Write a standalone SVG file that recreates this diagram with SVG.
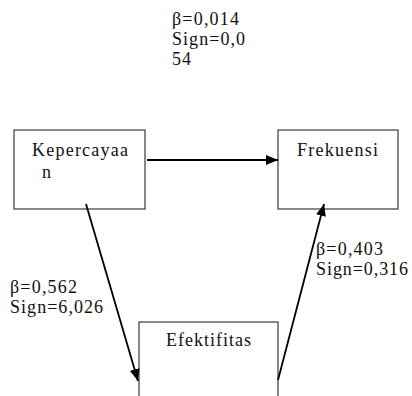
<svg xmlns="http://www.w3.org/2000/svg" width="412" height="396" viewBox="0 0 412 396">
<style>
.box{fill:#fff;stroke:#3a3a3a;stroke-width:1.2}
.t{font-family:"Liberation Serif","Times New Roman",serif;font-size:18px;fill:#111}
.c{stroke:#000;stroke-width:1.8;fill:none}
</style>
<defs>
<marker id="ah" viewBox="0 0 12 10" refX="12" refY="5" markerWidth="12" markerHeight="10" markerUnits="userSpaceOnUse" orient="auto">
<path d="M0,0 L12,5 L0,10 Z" fill="#000"/>
</marker>
</defs>
<rect width="412" height="396" fill="#fff"/>
<g id="node-kepercayaan">
<rect class="box" x="14" y="130" width="131" height="79"/>
<text class="t" x="32" y="156" textLength="96" lengthAdjust="spacing">Kepercayaa</text>
<text class="t" x="42" y="178">n</text>
</g>
<g id="node-frekuensi">
<rect class="box" x="278" y="130" width="120" height="79"/>
<text class="t" x="297" y="156" textLength="81" lengthAdjust="spacing">Frekuensi</text>
</g>
<g id="node-efektifitas">
<rect class="box" x="139" y="322" width="139" height="90"/>
<text class="t" x="166" y="346" textLength="85" lengthAdjust="spacing">Efektifitas</text>
</g>
<g id="connectors">
<line class="c" x1="147" y1="160" x2="278" y2="160" marker-end="url(#ah)"/>
<line class="c" x1="86" y1="204" x2="138" y2="381" marker-end="url(#ah)"/>
<line class="c" x1="278" y1="380" x2="324" y2="204" marker-end="url(#ah)"/>
</g>
<g id="labels">
<text class="t" x="172" y="25" textLength="67" lengthAdjust="spacing">β=0,014</text>
<text class="t" x="172" y="45" textLength="73" lengthAdjust="spacing">Sign=0,0</text>
<text class="t" x="172" y="65" textLength="19" lengthAdjust="spacing">54</text>
<text class="t" x="10" y="293" textLength="67" lengthAdjust="spacing">β=0,562</text>
<text class="t" x="10" y="313" textLength="93" lengthAdjust="spacing">Sign=6,026</text>
<text class="t" x="316" y="255" textLength="67" lengthAdjust="spacing">β=0,403</text>
<text class="t" x="316" y="275" textLength="92" lengthAdjust="spacing">Sign=0,316</text>
</g>
</svg>
